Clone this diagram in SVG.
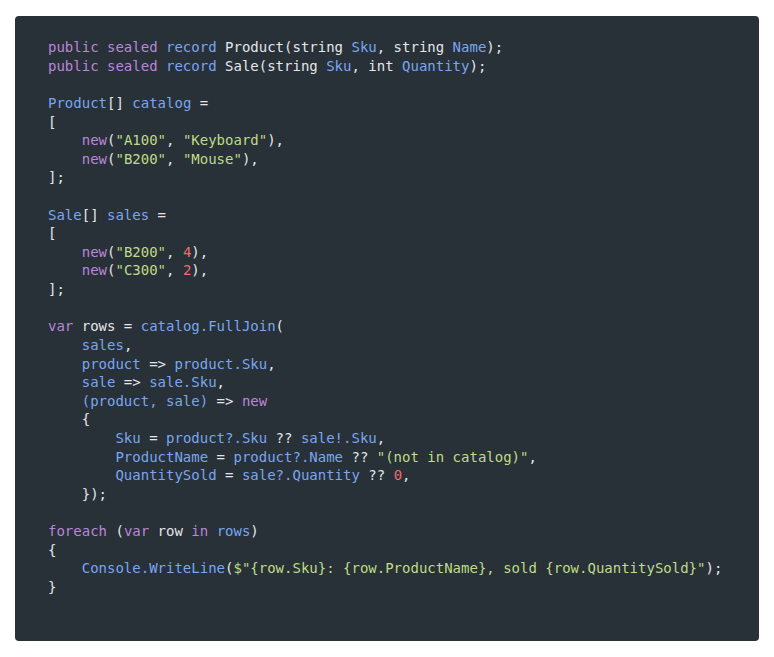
<svg xmlns="http://www.w3.org/2000/svg" width="774" height="657" viewBox="0 0 774 657">
<style>
text{font-family:"DejaVu Sans Mono","Liberation Mono",monospace;font-size:14px;fill:#e4e6ea;white-space:pre}
.k{fill:#bb86d9}.b{fill:#7aa6f0}.s{fill:#bfdc86}.n{fill:#ee6b6b}
</style>
<rect x="0" y="0" width="774" height="657" fill="#ffffff"/>
<g id="code-panel">
<rect x="15" y="16" width="744" height="625" rx="4" fill="#283038"/>
<g id="code" xml:space="preserve">
<text x="48" y="52"><tspan class="k">public sealed</tspan> <tspan class="b">record</tspan> Product(string <tspan class="b">Sku</tspan>, string <tspan class="b">Name</tspan>);</text>
<text x="48" y="70.6"><tspan class="k">public sealed</tspan> <tspan class="b">record</tspan> Sale(string <tspan class="b">Sku</tspan>, int <tspan class="b">Quantity</tspan>);</text>
<text x="48" y="107.9"><tspan class="b">Product</tspan>[] <tspan class="b">catalog</tspan> =</text>
<text x="48" y="126.5">[</text>
<text x="48" y="145.1">    <tspan class="k">new</tspan>(<tspan class="s">"A100"</tspan>, <tspan class="s">"Keyboard"</tspan>),</text>
<text x="48" y="163.7">    <tspan class="k">new</tspan>(<tspan class="s">"B200"</tspan>, <tspan class="s">"Mouse"</tspan>),</text>
<text x="48" y="182.3">];</text>
<text x="48" y="219.6"><tspan class="b">Sale</tspan>[] <tspan class="b">sales</tspan> =</text>
<text x="48" y="238.2">[</text>
<text x="48" y="256.8">    <tspan class="k">new</tspan>(<tspan class="s">"B200"</tspan>, <tspan class="n">4</tspan>),</text>
<text x="48" y="275.4">    <tspan class="k">new</tspan>(<tspan class="s">"C300"</tspan>, <tspan class="n">2</tspan>),</text>
<text x="48" y="294.1">];</text>
<text x="48" y="331.3"><tspan class="k">var</tspan> rows = <tspan class="b">catalog.FullJoin</tspan>(</text>
<text x="48" y="349.9">    <tspan class="b">sales</tspan>,</text>
<text x="48" y="368.5">    <tspan class="b">product</tspan> =&gt; <tspan class="b">product.Sku</tspan>,</text>
<text x="48" y="387.2">    <tspan class="b">sale</tspan> =&gt; <tspan class="b">sale.Sku</tspan>,</text>
<text x="48" y="405.8">    <tspan class="b">(product, sale)</tspan> =&gt; <tspan class="k">new</tspan></text>
<text x="48" y="424.4">    {</text>
<text x="48" y="443.0">        <tspan class="b">Sku</tspan> = <tspan class="b">product?.Sku</tspan> ?? <tspan class="b">sale!.Sku</tspan>,</text>
<text x="48" y="461.6">        <tspan class="b">ProductName</tspan> = <tspan class="b">product?.Name</tspan> ?? <tspan class="s">"(not in catalog)"</tspan>,</text>
<text x="48" y="480.3">        <tspan class="b">QuantitySold</tspan> = <tspan class="b">sale?.Quantity</tspan> ?? <tspan class="n">0</tspan>,</text>
<text x="48" y="498.9">    });</text>
<text x="48" y="536.1"><tspan class="k">foreach</tspan> (<tspan class="k">var</tspan> row <tspan class="k">in</tspan> <tspan class="b">rows</tspan>)</text>
<text x="48" y="554.7">{</text>
<text x="48" y="573.4">    <tspan class="b">Console.WriteLine</tspan>(<tspan class="s">$"{row.Sku}: {row.ProductName}, sold {row.QuantitySold}"</tspan>);</text>
<text x="48" y="592.0">}</text>
</g>
</g>
</svg>
